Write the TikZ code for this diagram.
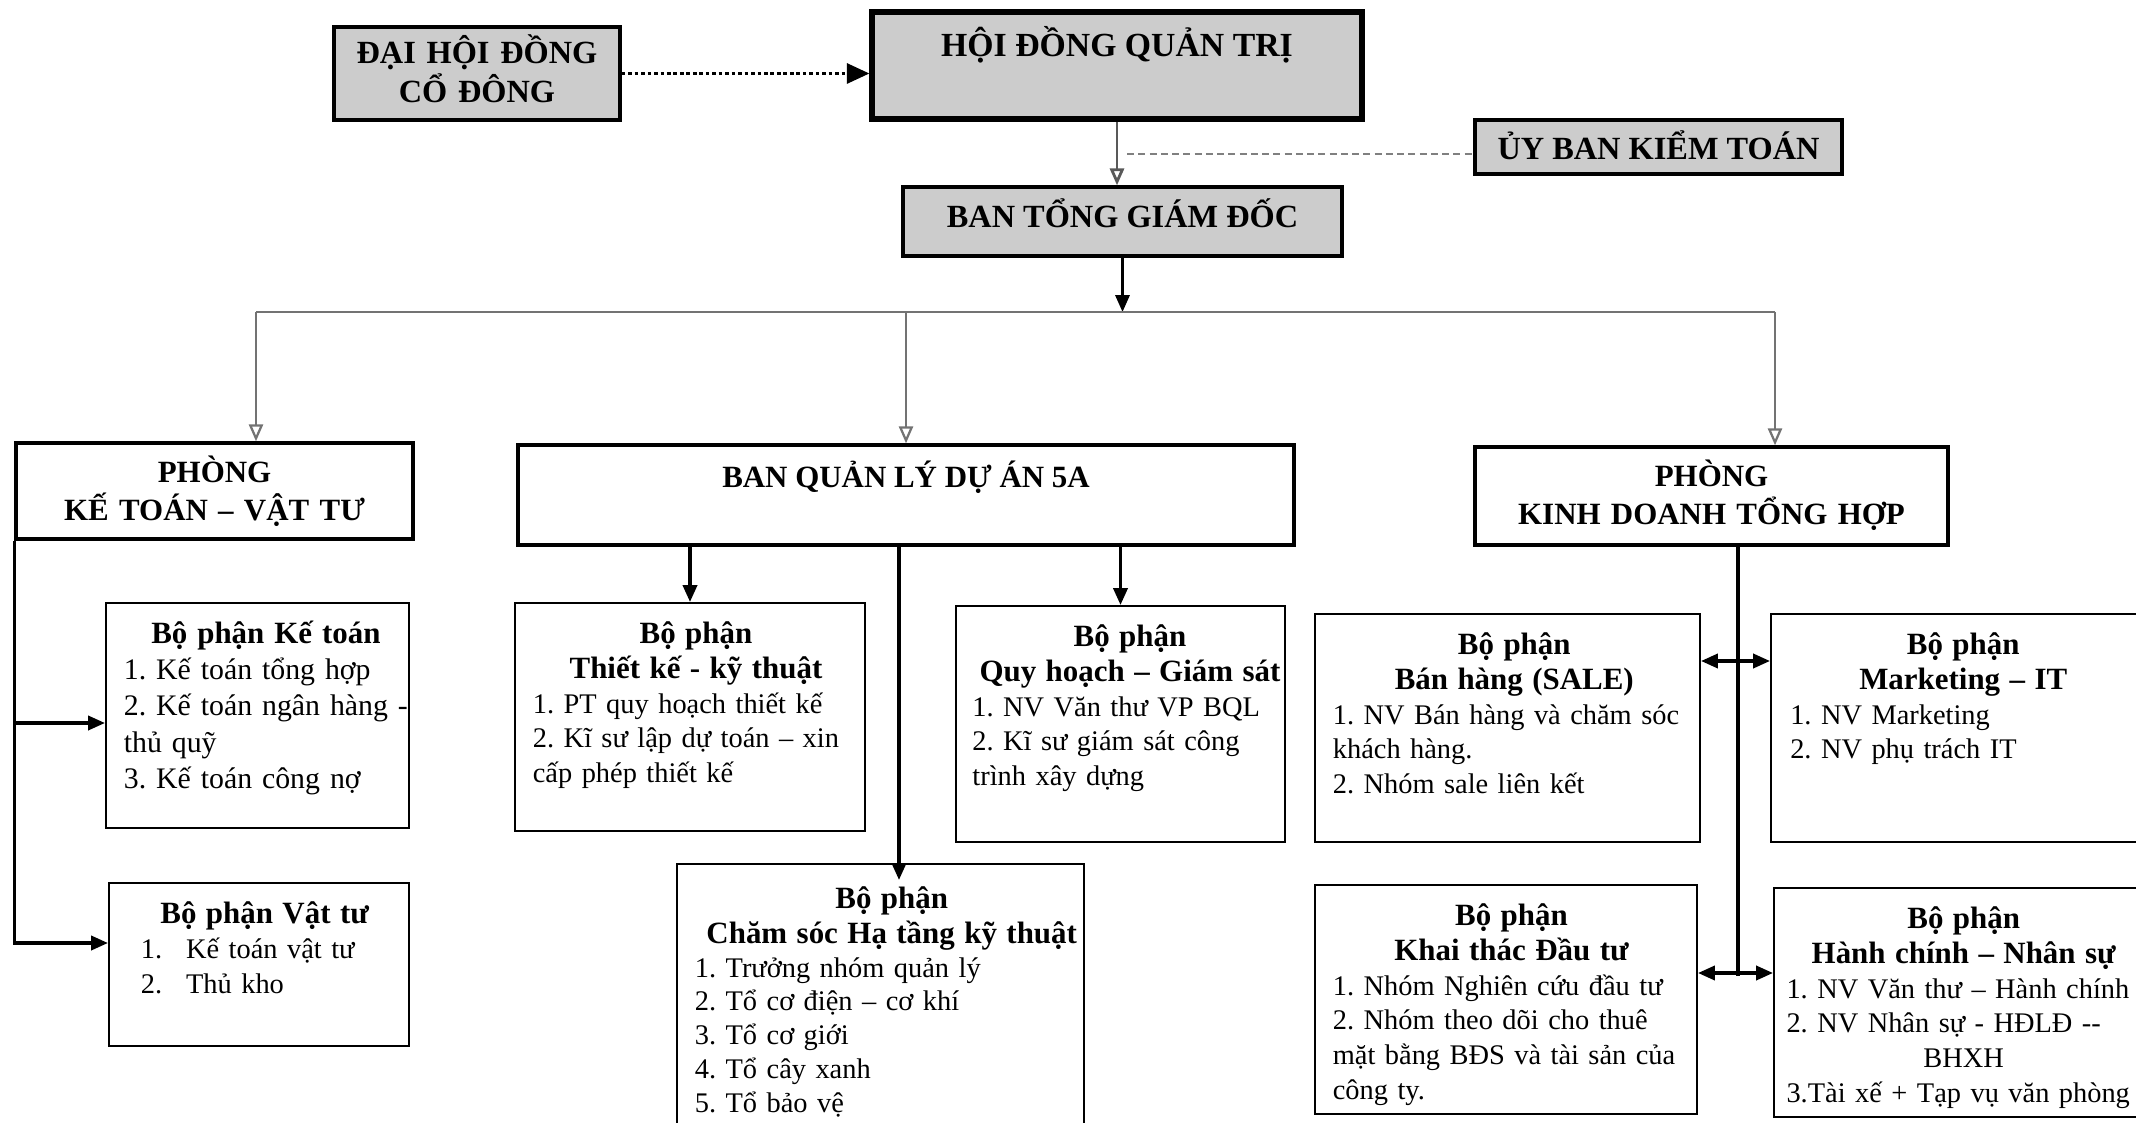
\documentclass[tikz,border=0pt]{standalone}
\usepackage{fontspec}
\setmainfont{Liberation Serif}
\usetikzlibrary{positioning,calc,fit,arrows.meta}
\frenchspacing
\newcommand{\unithead}{\bfseries\fontsize{11}{12.4}\selectfont}
\tikzset{topbox/.style={draw,fill=black!20,line width=1.2pt,inner sep=0pt},
  toptext/.style={inner sep=0pt,align=center,text height=8pt,font=\bfseries\fontsize{11.5}{14}\selectfont},
  dept/.style={draw,line width=1.2pt,inner sep=0pt},
  depttext/.style={inner sep=0pt,align=center,text height=8pt,font=\bfseries\fontsize{11}{13.5}\selectfont},
  unit/.style={draw,line width=0.7pt,inner sep=0pt},
  txt/.style={anchor=north west,align=left,inner sep=0pt,text height=8pt,font=\fontsize{10.1}{12.4}\selectfont},
  bus/.style={draw=black!55,line width=0.8pt},
  drop/.style={bus,-{Triangle[open,length=6pt,width=5pt]}},
  link/.style={line width=1pt,-{Triangle[length=6pt,width=5pt]}},
  biarrow/.style={line width=1.2pt,{Triangle[length=6pt,width=5pt]}-{Triangle[length=6pt,width=5pt]}}}

\begin{document}
\begin{tikzpicture}[x=0.0125cm,y=-0.0125cm]
  \useasboundingbox (0,0) rectangle (2136,1123);

  % top level
  \coordinate (dh1) at (334,27); \coordinate (dh2) at (620,120);
  \node (dh) [topbox, fit=(dh1) (dh2)] {};
  \node (dh-t) [toptext, text width=95pt, below=5.4pt of dh.north] {ĐẠI HỘI ĐỒNG\\CỔ ĐÔNG};
  \coordinate (hq1) at (872,12); \coordinate (hq2) at (1362,119);
  \node (hq) [topbox, line width=1.8pt, fit=(hq1) (hq2)] {};
  \node (hq-t) [toptext, font=\bfseries\fontsize{12}{14}\selectfont, below=8.5pt of hq.north] {HỘI ĐỒNG QUẢN TRỊ};
  \coordinate (ub1) at (1475,120); \coordinate (ub2) at (1842,174);
  \node (ub) [topbox, fit=(ub1) (ub2)] {};
  \node (ub-t) [toptext, below=6.5pt of ub.north] {ỦY BAN KIỂM TOÁN};
  \coordinate (bg1) at (903,187); \coordinate (bg2) at (1342,256);
  \node (bg) [topbox, fit=(bg1) (bg2)] {};
  \node (bg-t) [toptext, below=6.8pt of bg.north] {BAN TỔNG GIÁM ĐỐC};

  \draw[densely dotted, line width=1.3pt, -{Triangle[length=8pt,width=7pt]}] (dh.east) -- (dh.east -| hq.west);
  \draw[draw=black!65, line width=1pt, -{Triangle[open,length=6pt,width=5pt]}] (hq.south) -- (hq.south |- bg.north);
  \coordinate (au) at (1127,154);
  \draw[black!50, line width=1pt, dash pattern=on 2.5pt off 1.5pt] (au) -- (au -| ub.west);

  % bus to the departments
  \coordinate (bL) at (256,312); \coordinate (bR) at (1775,312);
  \draw[link] (bg.south) -- (bg.south |- bL);
  \draw[bus] (bL) -- (bR);

  % departments
  \coordinate (kv1) at (16,443); \coordinate (kv2) at (413,539);
  \node (kv) [dept, fit=(kv1) (kv2)] {};
  \node (kv-t) [depttext, text width=135pt, below=6.5pt of kv.north] {PHÒNG\\KẾ TOÁN – VẬT TƯ};
  \coordinate (bq1) at (518,445); \coordinate (bq2) at (1294,545);
  \node (bq) [dept, fit=(bq1) (bq2)] {};
  \node (bq-t) [depttext, below=7.5pt of bq.north] {BAN QUẢN LÝ DỰ ÁN 5A};
  \coordinate (kd1) at (1475,447); \coordinate (kd2) at (1948,545);
  \node (kd) [dept, fit=(kd1) (kd2)] {};
  \node (kd-t) [depttext, text width=160pt, below=6.5pt of kd.north] {PHÒNG\\KINH DOANH TỔNG HỢP};

  \draw[drop] (bL) -- (bL |- kv.north);
  \draw[drop] (bq.north |- bL) -- (bq.north);
  \draw[drop] (bR) -- (bR |- kd.north);

  % units
  \coordinate (kt1) at (106,603); \coordinate (kt2) at (409,828);
  \node (kt) [unit, fit=(kt1) (kt2)] {};
  \coordinate (vt1) at (109,883); \coordinate (vt2) at (409,1046);
  \node (vt) [unit, fit=(vt1) (vt2)] {};
  \coordinate (tk1) at (515,603); \coordinate (tk2) at (865,831);
  \node (tk) [unit, fit=(tk1) (tk2)] {};
  \coordinate (qh1) at (956,606); \coordinate (qh2) at (1285,842);
  \node (qh) [unit, fit=(qh1) (qh2)] {};
  \coordinate (cs1) at (677,864); \coordinate (cs2) at (1084,1140);
  \node (cs) [unit, fit=(cs1) (cs2)] {};
  \coordinate (bh1) at (1315,614); \coordinate (bh2) at (1700,842);
  \node (bh) [unit, fit=(bh1) (bh2)] {};
  \coordinate (mk1) at (1771,614); \coordinate (mk2) at (2141,842);
  \node (mk) [unit, fit=(mk1) (mk2)] {};
  \coordinate (kh1) at (1315,885); \coordinate (kh2) at (1697,1114);
  \node (kh) [unit, fit=(kh1) (kh2)] {};
  \coordinate (hc1) at (1774,888); \coordinate (hc2) at (2141,1117);
  \node (hc) [unit, fit=(hc1) (hc2)] {};

  % unit texts
  \node (kt-t) [txt, text width=101pt, below right=6.5pt and 6.5pt of kt.north west, font=\fontsize{10.6}{12.9}\selectfont]
    {{\centering\unithead Bộ phận Kế toán\par}
     1. Kế toán tổng hợp\\2. Kế toán ngân hàng -\\thủ quỹ\\3. Kế toán công nợ};
  \node (vt-t) [txt, text width=98pt, below right=6.5pt and 6.5pt of vt.north west]
    {{\centering\unithead Bộ phận Vật tư\par}
     \hspace*{5pt}1.\hspace{8.5pt}Kế toán vật tư\\\hspace*{5pt}2.\hspace{8.5pt}Thủ kho};
  \node (tk-t) [txt, text width=116pt, below right=6.5pt and 6.5pt of tk.north west]
    {{\centering\unithead Bộ phận\\Thiết kế - kỹ thuật\par}
     1. PT quy hoạch thiết kế\\2. Kĩ sư lập dự toán – xin\\cấp phép thiết kế};
  \node (qh-t) [txt, text width=112pt, below right=6.5pt and 6pt of qh.north west]
    {{\centering\unithead Bộ phận\\Quy hoạch – Giám sát\par}
     1. NV Văn thư VP BQL\\2. Kĩ sư giám sát công\\trình xây dựng};
  \node (cs-t) [txt, text width=140pt, below right=8pt and 6.5pt of cs.north west, font=\fontsize{10.1}{12}\selectfont]
    {{\centering\unithead Bộ phận\\Chăm sóc Hạ tầng kỹ thuật\par}
     1. Trưởng nhóm quản lý\\2. Tổ cơ điện – cơ khí\\3. Tổ cơ giới\\4. Tổ cây xanh\\5. Tổ bảo vệ};
  \node (bh-t) [txt, text width=129pt, below right=6.5pt and 6.5pt of bh.north west]
    {{\centering\unithead Bộ phận\\Bán hàng (SALE)\par}
     1. NV Bán hàng và chăm sóc\\khách hàng.\\2. Nhóm sale liên kết};
  \node (mk-t) [txt, text width=123pt, below right=6.5pt and 7pt of mk.north west]
    {{\centering\unithead Bộ phận\\Marketing – IT\par}
     1. NV Marketing\\2. NV phụ trách IT};
  \node (kh-t) [txt, text width=127pt, below right=6.5pt and 6.5pt of kh.north west]
    {{\centering\unithead Bộ phận\\Khai thác Đầu tư\par}
     1. Nhóm Nghiên cứu đầu tư\\2. Nhóm theo dõi cho thuê\\mặt bằng BĐS và tài sản của\\công ty.};
  \node (hc-t) [txt, text width=126pt, below right=6.5pt and 4.6pt of hc.north west]
    {{\centering\unithead Bộ phận\\Hành chính – Nhân sự\par}
     1. NV Văn thư – Hành chính\\2. NV Nhân sự - HĐLĐ -{}-\par
     {\centering BHXH\par}
     3.Tài xế + Tạp vụ văn phòng};

  % accounting branch
  \coordinate (l1) at (16,723); \coordinate (l2) at (16,943);
  \draw[link, line width=1.2pt] (kv.south west) |- (vt.west |- l2);
  \draw[link, line width=1.2pt] (l1) -- (kt.west |- l1);

  % project branch
  \coordinate (m1) at (899,880);
  \draw[link, line width=1.2pt] (bq.south -| tk.north) -- (tk.north);
  \draw[link, line width=1.2pt] (bq.south -| qh.north) -- (qh.north);
  \draw[link, line width=1.2pt] (bq.south -| m1) -- (m1);

  % business branch
  \coordinate (r1) at (1738,661); \coordinate (r2) at (1738,973);
  \draw[line width=1.2pt] (kd.south -| r1) -- ([yshift=-1pt]r2);
  \draw[biarrow] (bh.east |- r1) -- (mk.west |- r1);
  \draw[biarrow] (kh.east |- r2) -- (hc.west |- r2);
\end{tikzpicture}
\end{document}
